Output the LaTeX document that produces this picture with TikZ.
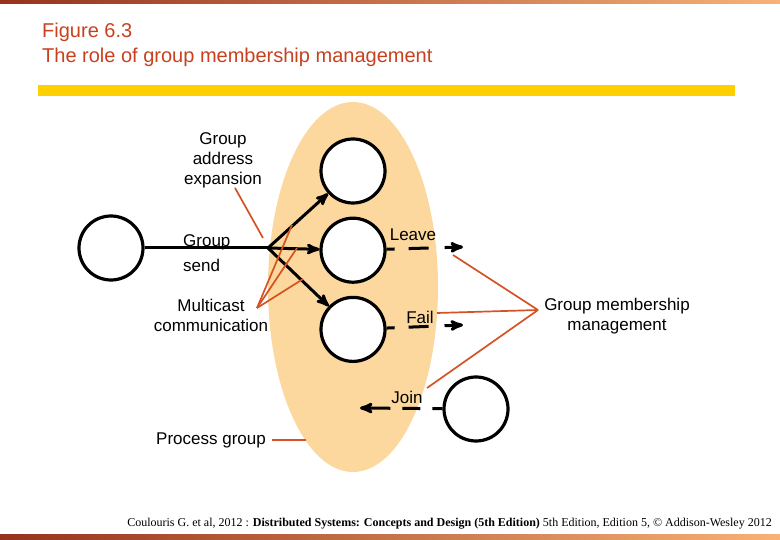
\documentclass[tikz,border=0pt]{standalone}
\usepackage{fontspec}
\setmainfont{Liberation Sans}
\newfontfamily\footfont{Liberation Serif}
\usetikzlibrary{shapes.geometric, positioning, arrows}
\definecolor{titlered}{RGB}{200,65,30}
\definecolor{noteline}{RGB}{212,82,36}
\definecolor{peach}{RGB}{252,216,158}
\definecolor{bargold}{RGB}{255,208,0}
\definecolor{bardark}{RGB}{150,50,30}
\definecolor{barmid}{RGB}{232,112,32}
\definecolor{barlight}{RGB}{246,178,120}
\tikzset{>=stealth',
         proc/.style={circle, draw, line width=3.2pt, fill=white, minimum size=64pt, inner sep=0pt},
         lbl/.style={font=\fontsize{17}{20}\selectfont, inner sep=0pt, align=center},
         note/.style={draw=noteline, line width=1.7pt},
         send/.style={->, line width=3pt},
         member/.style={->, line width=3pt, dash pattern=on 8pt off 14pt on 20pt off 16pt on 40pt},
         joining/.style={->, line width=3pt, dash pattern=on 10pt off 12pt on 18pt off 12pt on 40pt},
         }

\begin{document}
\begin{tikzpicture}[x=1pt, y=-1pt]
    \useasboundingbox (0,0) rectangle (780,540);
    % slide decoration
    \fill[left color=bardark, middle color=barmid, right color=barlight] (0,0) rectangle (780,4);
    \fill[left color=bardark, middle color=barmid, right color=barlight] (0,534) rectangle (780,540);
    \fill[bargold] (38,85) rectangle (735,96);
    \node[anchor=north west, align=left, inner sep=0pt, text=titlered,
          font=\fontsize{20}{25}\selectfont] (title) at (42,23) {Figure 6.3\\The role of group membership management};

    % process group
    \node[ellipse, fill=peach, minimum width=170pt, minimum height=370pt, inner sep=0pt] (grp) at (353,287) {};
    \node[proc] (src) at (111,248) {};
    \node[proc] (top) at (353,171) {};
    \node[proc, below=12pt of top] (mid) {};
    \node[proc, below=12pt of mid] (bot) {};
    \node[proc] (new) at (476,409) {};

    \coordinate (jn) at (268,248);
    \draw[line width=3pt] (src) -- (jn);
    \draw[send] (jn) -- (top);
    \draw[send] (jn) -- (mid);
    \draw[send] (jn) -- (bot);

    \coordinate (lvend) at (463,247);
    \coordinate (flend) at (463,325);
    \coordinate (jnend) at (360,408);
    \draw[member] (mid) -- (lvend);
    \draw[member] (bot) -- (flend);
    \draw[joining] (new) -- (jnend);

    % labels
    \node[lbl] (gae) at (223,160) {Group\\address\\expansion};
    \node[lbl, anchor=west, align=left] (gsend) at (183,253) {Group\\[5pt]send};
    \node[lbl] (mcast) at (211,315) {Multicast\\communication};
    \node[lbl] (leave) at (413,235) {Leave};
    \node[lbl] (fail) at (420,317) {Fail};
    \node[lbl] (join) at (407,397) {Join};
    \node[lbl] (gmm) at (617,316) {Group membership\\management};
    \node[lbl] (plbl) at (211,440) {Process group};

    % pointers
    \coordinate (gaetip) at (263,238);
    \draw[note] ([xshift=12pt]gae.south) -- (gaetip);
    \coordinate (mc) at (257,308);
    \coordinate (mcA) at (292,225);
    \coordinate (mcB) at (297,248);
    \coordinate (mcC) at (303,279);
    \foreach \p in {mcA, mcB, mcC}
        \draw[note] (mc) -- (\p);
    \coordinate (gm) at (538,310);
    \coordinate (lvnote) at (453,255);
    \coordinate (flnote) at (437,313);
    \coordinate (jnnote) at (427,388);
    \foreach \p in {lvnote, flnote, jnnote}
        \draw[note] (gm) -- (\p);
    \draw[note] ([xshift=6pt]plbl.east) -- (plbl.east -| grp.253);

    \node[anchor=east, inner sep=0pt, font=\footfont\fontsize{12}{14}\selectfont] (cite) at (772,524)
        {Coulouris G. et al, 2012 : \textbf{Distributed Systems: Concepts and Design (5th Edition)} 5th Edition, Edition 5, \textcopyright{} Addison-Wesley 2012};
\end{tikzpicture}
\end{document}
